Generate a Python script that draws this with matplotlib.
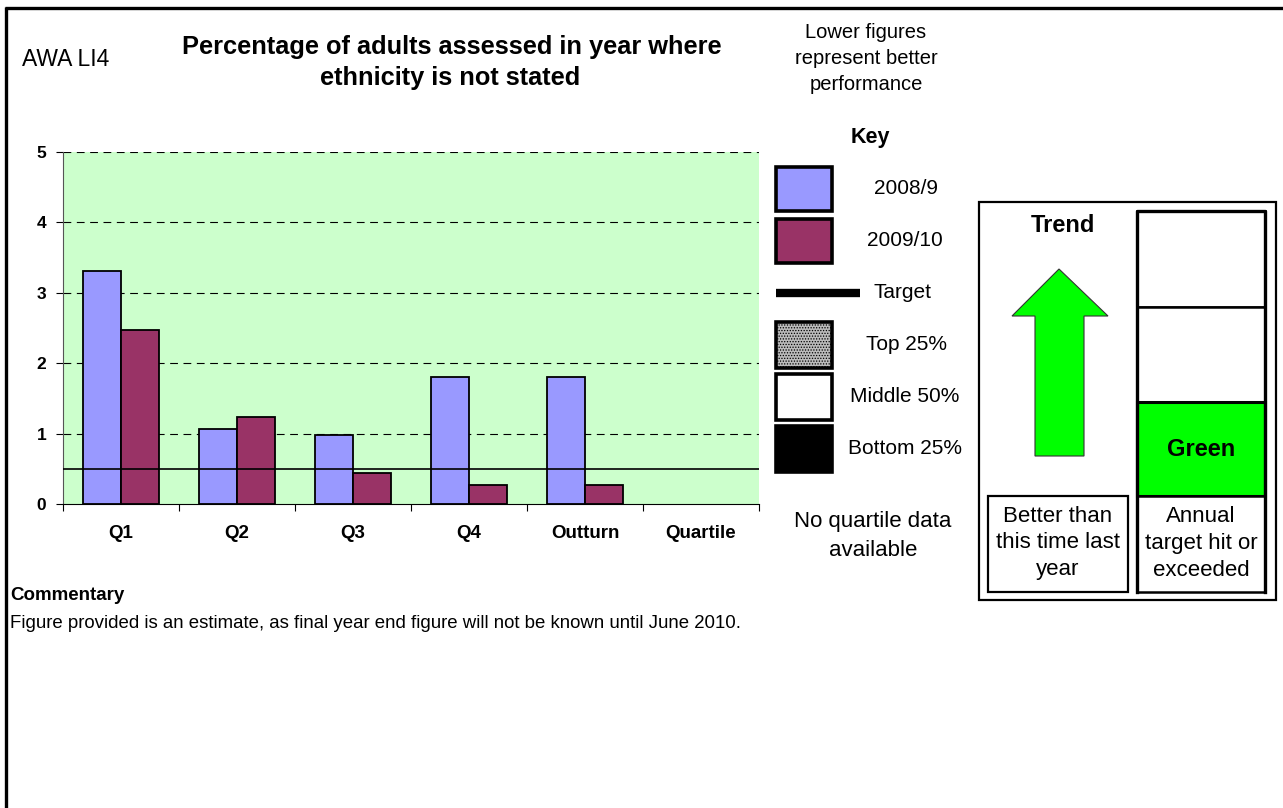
import matplotlib
matplotlib.use("Agg")
import matplotlib.pyplot as plt
import numpy as np
from matplotlib.patches import Rectangle, Polygon

plt.rcParams['font.family'] = ['Liberation Sans', 'DejaVu Sans']

categories = ["Q1", "Q2", "Q3", "Q4", "Outturn", "Quartile"]
series_2008 = [3.31, 1.06, 0.98, 1.80, 1.80, np.nan]
series_2009 = [2.47, 1.24, 0.44, 0.27, 0.27, np.nan]
target = 0.5
series_names = ["2008/9", "2009/10"]
yticks = [0, 1, 2, 3, 4, 5]

W, H = 1283, 808
fig = plt.figure(figsize=(W / 100, H / 100), dpi=100)

def ax_rect(x0, y0, x1, y1):
    return [x0 / W, 1 - y1 / H, (x1 - x0) / W, (y1 - y0) / H]

BLUE = "#9999FF"
MAROON = "#993366"
BG = "#CCFFCC"
LIME = "#00FF00"

# main chart
ax = fig.add_axes(ax_rect(63, 152, 759, 504))
ax.set_facecolor(BG)
x = np.arange(len(categories))
bw = 0.33
ax.bar(x - bw / 2, series_2008, bw, color=BLUE, edgecolor="black", linewidth=1.3, zorder=3)
ax.bar(x + bw / 2, series_2009, bw, color=MAROON, edgecolor="black", linewidth=1.3, zorder=3)
ax.axhline(target, color="black", linewidth=1.2, zorder=4)
ax.set_xlim(-0.5, len(categories) - 0.5)
ax.set_ylim(0, 5)
ax.set_yticks(yticks)
ax.set_yticklabels([str(v) for v in yticks], fontsize=12.5, fontweight="bold")
for v in yticks[1:]:
    ax.axhline(v, color="black", linewidth=0.8, linestyle=(0, (7, 5)), zorder=1)
ax.set_xticks(np.arange(len(categories) + 1) - 0.5)
ax.set_xticklabels([])
ax.set_xticks(x, minor=True)
ax.set_xticklabels(categories, minor=True, fontsize=13.5, fontweight="bold")
ax.tick_params(axis="x", which="minor", length=0, pad=15)
ax.tick_params(axis="x", which="major", length=5, direction="out", width=0.8)
ax.tick_params(axis="y", length=5, width=0.8, pad=7)
for s in ["top", "right"]:
    ax.spines[s].set_visible(False)
ax.spines["left"].set_color("#555555")
ax.spines["left"].set_linewidth(0.8)
ax.spines["bottom"].set_linewidth(0.8)

# overlay in pixel coordinates
ov2 = fig.add_axes([0, 0, 1, 1], zorder=5)
ov2.set_xlim(0, W)
ov2.set_ylim(H, 0)
ov2.axis("off")
ov2.patch.set_alpha(0)

# outer frame
ov2.plot([5, W], [8, 8], color="black", linewidth=2.4, solid_capstyle="butt")
ov2.plot([6, 6], [7, H], color="black", linewidth=2.4, solid_capstyle="butt")

# header texts
ov2.text(22, 59, "AWA LI4", fontsize=16.5, ha="left", va="center")
ov2.text(452, 47, "Percentage of adults assessed in year where", fontsize=18.3,
         fontweight="bold", ha="center", va="center")
ov2.text(450, 78, "ethnicity is not stated", fontsize=18.3,
         fontweight="bold", ha="center", va="center")
for i, t in enumerate(["Lower figures", "represent better", "performance"]):
    ov2.text(866, 33 + 26 * i, t, fontsize=14.5, ha="center", va="center")
ov2.text(870, 138, "Key", fontsize=15.5, fontweight="bold", ha="center", va="center")

# key
def keybox(y0, y1, fc, hatch=None):
    ov2.add_patch(Rectangle((776, y0), 56, y1 - y0, facecolor=fc, edgecolor="black",
                            linewidth=2.6, hatch=hatch))

LFS = 15
keybox(167, 211, BLUE)
ov2.text(906, 189, series_names[0], fontsize=LFS, ha="center", va="center")
keybox(219, 263, MAROON)
ov2.text(905, 241, series_names[1], fontsize=LFS, ha="center", va="center")
ov2.plot([776, 860], [293, 293], color="black", linewidth=6, solid_capstyle="butt")
ov2.text(903, 293, "Target", fontsize=LFS, ha="center", va="center")
plt.rcParams['hatch.linewidth'] = 0.6
keybox(322, 368, "#bbbbbb", hatch="......")
ov2.text(906, 345, "Top 25%", fontsize=LFS, ha="center", va="center")
keybox(374, 420, "white")
ov2.text(905, 397, "Middle 50%", fontsize=LFS, ha="center", va="center")
keybox(426, 472, "black")
ov2.text(905, 448, "Bottom 25%", fontsize=LFS, ha="center", va="center")
ov2.text(873, 522, "No quartile data", fontsize=16, ha="center", va="center")
ov2.text(873, 550, "available", fontsize=16, ha="center", va="center")

# right panel
ov2.add_patch(Rectangle((979, 202), 297, 398, facecolor="none", edgecolor="black", linewidth=1.6))
ov2.text(1063, 226, "Trend", fontsize=17, fontweight="bold", ha="center", va="center")
arrow = [(1059, 269), (1108, 316), (1084, 316), (1084, 456), (1035, 456), (1035, 316), (1012, 316)]
ov2.add_patch(Polygon(arrow, closed=True, facecolor=LIME, edgecolor="#333333", linewidth=0.8))
ov2.add_patch(Rectangle((988, 496), 140, 96, facecolor="white", edgecolor="black", linewidth=1.6))
BFS = 16
for i, t in enumerate(["Better than", "this time last", "year"]):
    ov2.text(1058, 516 + 27 * i, t, fontsize=BFS, ha="center", va="center")
# RAG column
ov2.add_patch(Rectangle((1137, 211), 128, 96, facecolor="white", edgecolor="black", linewidth=1.8))
ov2.add_patch(Rectangle((1137, 307), 128, 95, facecolor="white", edgecolor="black", linewidth=1.8))
ov2.add_patch(Rectangle((1137, 402), 128, 94, facecolor=LIME, edgecolor="black", linewidth=2.2))
ov2.add_patch(Rectangle((1137, 496), 128, 96, facecolor="white", edgecolor="black", linewidth=1.8))
ov2.plot([1137, 1137, 1265, 1265], [592, 211, 211, 592], color="black", linewidth=2.4)
ov2.text(1201, 449, "Green", fontsize=17, fontweight="bold", ha="center", va="center")
for i, t in enumerate(["Annual", "target hit or", "exceeded"]):
    ov2.text(1201, 516 + 27 * i, t, fontsize=BFS, ha="center", va="center")

# commentary
ov2.text(10, 596, "Commentary", fontsize=13.5, fontweight="bold", ha="left", va="center")
ov2.text(10, 624, "Figure provided is an estimate, as final year end figure will not be known until June 2010.",
         fontsize=13.4, ha="left", va="center")

fig.savefig("out.png", dpi=100, facecolor="white")
